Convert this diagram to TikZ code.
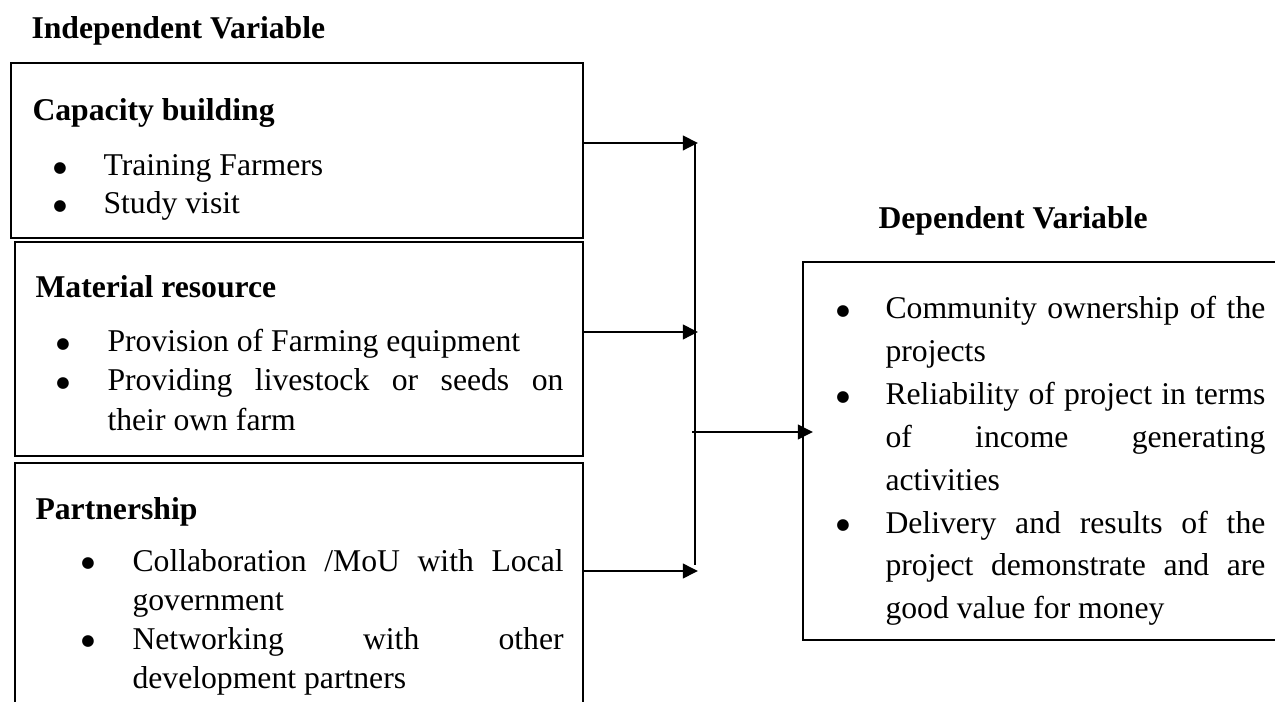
\documentclass[tikz,border=0pt]{standalone}
\usepackage{fontspec}
\setmainfont{Liberation Serif}
\newfontfamily\bulfont{DejaVu Sans}
\usetikzlibrary{arrows.meta, fit}
\hyphenpenalty=10000
\exhyphenpenalty=10000
\tolerance=10000

\begin{document}
\begin{tikzpicture}[
    x=0.3788pt, y=-0.3788pt,
    font=\fontsize{12}{14.8}\selectfont,
    box/.style={rectangle, draw, line width=0.5pt, inner sep=0pt},
    head/.style={anchor=base west, inner sep=0pt, font=\fontsize{12}{14.8}\selectfont\bfseries},
    bul/.style={anchor=base, inner sep=0pt, yshift=1.4pt, font=\bulfont\fontsize{5.8}{5.8}\selectfont},
    item/.style={anchor=base west, inner sep=0pt, align=justify, text width=#1},
    arrow/.style={-{Triangle[length=5.7pt, width=5.5pt]}, line width=0.75pt}
]
\useasboundingbox (0,0) rectangle (1275,702);

% independent side
\node[head] (indep) at (31,39) {Independent Variable};
\node[box, fit={(11,63) (583,238)}] (cap) {};
\node[box, fit={(15,242) (583,456)}] (mat) {};
\node[box, fit={(15,463) (583,730)}] (par) {};

\node[head] (caph) at (32,121) {Capacity building};
\node[bul] (capb1) at (60,176) {●};
\node[item=172pt] (capi1) at (103,176) {Training Farmers};
\node[bul] (capb2) at (60,214) {●};
\node[item=172pt] (capi2) at (103,214) {Study visit};

\node[head] (math) at (35,298) {Material resource};
\node[bul] (matb1) at (63,352) {●};
\node[item=172.7pt] (mati1) at (107,352) {Provision of Farming equipment};
\node[bul] (matb2) at (63,391) {●};
\node[item=172.7pt] (mati2) at (107,391) {Providing livestock or seeds on\linebreak their own farm};

\node[head] (parh) at (35,519) {Partnership};
\node[bul] (parb1) at (88,571) {●};
\node[item=163.3pt] (pari1) at (132,571) {Collaboration /MoU with Local\linebreak government};
\node[bul] (parb2) at (88,649) {●};
\node[item=163.3pt] (pari2) at (132,649) {Networking with other\linebreak development partners};

% dependent side
\node[head] (dep) at (878,229) {Dependent Variable};
\node[box, fit={(803,262) (1295,640)}] (out) {};
\begin{scope}[font=\fontsize{12}{16.25}\selectfont]
\node[bul] (outb1) at (843,319) {●};
\node[item=143.9pt] (outi1) at (885,319) {Community ownership of the\linebreak projects};
\node[bul] (outb2) at (843,405) {●};
\node[item=143.9pt] (outi2) at (885,405) {Reliability of project in terms\linebreak of income generating\linebreak activities};
\node[bul] (outb3) at (843,533) {●};
\node[item=143.9pt] (outi3) at (885,533) {Delivery and results of the\linebreak project demonstrate and are\linebreak good value for money};
\end{scope}

% connectors
\coordinate (t1) at (698,143);
\coordinate (t2) at (698,332);
\coordinate (t3) at (698,571);
\coordinate (bartop) at (695,142);
\coordinate (barbot) at (695,565);
\coordinate (jn) at (692,432);
\coordinate (tin) at (813,432);

\draw[arrow] (cap.east |- t1) -- (t1);
\draw[arrow] (mat.east |- t2) -- (t2);
\draw[arrow] (par.east |- t3) -- (t3);
\draw[line width=0.75pt] (bartop) -- (barbot);
\draw[arrow] (jn) -- (tin);
\end{tikzpicture}
\end{document}
